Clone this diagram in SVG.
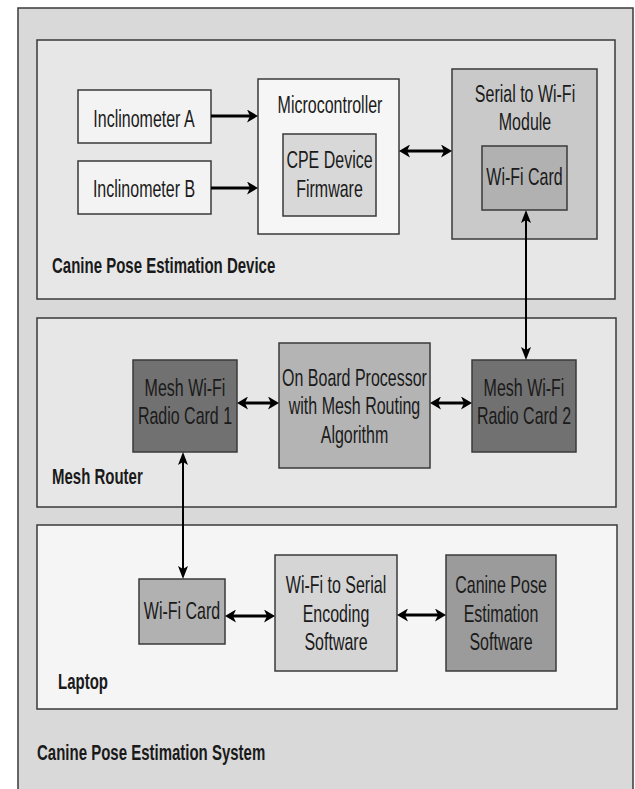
<svg xmlns="http://www.w3.org/2000/svg" width="635" height="789" viewBox="0 0 635 789">
<style>
.box{stroke:#3a3a3a;stroke-width:1.5}
.t{font-family:"Liberation Sans",Arial,sans-serif;font-size:16px;fill:#1a1a1a;text-anchor:middle}
.lb{font-family:"Liberation Sans",Arial,sans-serif;font-size:15px;font-weight:bold;fill:#1a1a1a}
.ah{stroke:#000;stroke-width:3;fill:none}
.av{stroke:#000;stroke-width:2;fill:none}
</style>
<defs>
<marker id="h" markerUnits="userSpaceOnUse" markerWidth="12" markerHeight="13" refX="3" refY="6.5" orient="auto-start-reverse" viewBox="0 0 12 13">
<path d="M0,0 L11,6.5 L0,13 L3,6.5 z" fill="#000"/>
</marker>
<marker id="v" markerUnits="userSpaceOnUse" markerWidth="14" markerHeight="10" refX="3" refY="5" orient="auto-start-reverse" viewBox="0 0 14 10">
<path d="M0,0 L13,5 L0,10 L3,5 z" fill="#000"/>
</marker>
</defs>

<g id="system">
<rect class="box" x="18" y="8" width="615" height="800" fill="#d9d9d9"/>
<text class="lb" transform="matrix(1 0 0 1.5 37 760)">Canine Pose Estimation System</text>
</g>

<g id="device">
<rect class="box" x="37" y="40" width="578" height="259" fill="#e7e7e7"/>
<text class="lb" transform="matrix(1 0 0 1.5 52 273)">Canine Pose Estimation Device</text>
</g>

<g id="inclA">
<rect class="box" x="78" y="90" width="133" height="53" fill="#f3f3f3"/>
<text class="t" transform="matrix(1 0 0 1.5 144 127)">Inclinometer A</text>
</g>
<g id="inclB">
<rect class="box" x="78" y="161" width="133" height="53" fill="#f3f3f3"/>
<text class="t" transform="matrix(1 0 0 1.5 144 197)">Inclinometer B</text>
</g>

<g id="micro">
<rect class="box" x="258" y="79" width="141" height="155" fill="#f6f6f6"/>
<text class="t" transform="matrix(1 0 0 1.5 330 113)">Microcontroller</text>
</g>
<g id="firmware">
<rect class="box" x="283" y="134" width="93" height="82" fill="#d8d8d8"/>
<text class="t" transform="matrix(1 0 0 1.5 329.5 168)">CPE Device</text>
<text class="t" transform="matrix(1 0 0 1.5 329.5 197)">Firmware</text>
</g>

<g id="serial">
<rect class="box" x="452" y="69" width="145" height="170" fill="#c9c9c9"/>
<text class="t" transform="matrix(1 0 0 1.5 525 102)">Serial to Wi-Fi</text>
<text class="t" transform="matrix(1 0 0 1.5 525 130)">Module</text>
</g>
<g id="wifi1">
<rect class="box" x="482" y="146" width="85" height="64" fill="#b1b1b1"/>
<text class="t" transform="matrix(1 0 0 1.5 524.5 185)">Wi-Fi Card</text>
</g>

<g id="router">
<rect class="box" x="37" y="318" width="579" height="189" fill="#e7e7e7"/>
<text class="lb" transform="matrix(1 0 0 1.5 52 484)">Mesh Router</text>
</g>
<g id="card1">
<rect class="box" x="133" y="360" width="104" height="92" fill="#717171"/>
<text class="t" transform="matrix(1 0 0 1.5 185 396)">Mesh Wi-Fi</text>
<text class="t" transform="matrix(1 0 0 1.5 185 424)">Radio Card 1</text>
</g>
<g id="proc">
<rect class="box" x="279" y="343" width="151" height="125" fill="#b4b4b4"/>
<text class="t" transform="matrix(1 0 0 1.5 354.5 386)">On Board Processor</text>
<text class="t" transform="matrix(1 0 0 1.5 354.5 414)">with Mesh Routing</text>
<text class="t" transform="matrix(1 0 0 1.5 354.5 443)">Algorithm</text>
</g>
<g id="card2">
<rect class="box" x="472" y="360" width="104" height="92" fill="#717171"/>
<text class="t" transform="matrix(1 0 0 1.5 524 396)">Mesh Wi-Fi</text>
<text class="t" transform="matrix(1 0 0 1.5 524 424)">Radio Card 2</text>
</g>

<g id="laptop">
<rect class="box" x="37" y="525" width="580" height="184" fill="#f5f5f5"/>
<text class="lb" transform="matrix(1 0 0 1.5 58 689)">Laptop</text>
</g>
<g id="wifi2">
<rect class="box" x="139" y="579" width="86" height="65" fill="#b1b1b1"/>
<text class="t" transform="matrix(1 0 0 1.5 182 619)">Wi-Fi Card</text>
</g>
<g id="w2s">
<rect class="box" x="275" y="555" width="122" height="116" fill="#d5d5d5"/>
<text class="t" transform="matrix(1 0 0 1.5 336 593)">Wi-Fi to Serial</text>
<text class="t" transform="matrix(1 0 0 1.5 336 622)">Encoding</text>
<text class="t" transform="matrix(1 0 0 1.5 336 650)">Software</text>
</g>
<g id="cpesw">
<rect class="box" x="446" y="555" width="110" height="116" fill="#9b9b9b"/>
<text class="t" transform="matrix(1 0 0 1.5 501 593)">Canine Pose</text>
<text class="t" transform="matrix(1 0 0 1.5 501 622)">Estimation</text>
<text class="t" transform="matrix(1 0 0 1.5 501 650)">Software</text>
</g>

<g id="connectors">
<line class="ah" x1="211" y1="116" x2="250" y2="116" marker-end="url(#h)"/>
<line class="ah" x1="211" y1="188" x2="250" y2="188" marker-end="url(#h)"/>
<line class="ah" x1="407" y1="151" x2="444" y2="151" marker-start="url(#h)" marker-end="url(#h)"/>
<line class="av" x1="526" y1="220" x2="526" y2="350" marker-start="url(#v)" marker-end="url(#v)"/>
<line class="ah" x1="245" y1="403" x2="271" y2="403" marker-start="url(#h)" marker-end="url(#h)"/>
<line class="ah" x1="438" y1="403" x2="464" y2="403" marker-start="url(#h)" marker-end="url(#h)"/>
<line class="av" x1="183" y1="462" x2="183" y2="569" marker-start="url(#v)" marker-end="url(#v)"/>
<line class="ah" x1="233" y1="616" x2="267" y2="616" marker-start="url(#h)" marker-end="url(#h)"/>
<line class="ah" x1="405" y1="615" x2="438" y2="615" marker-start="url(#h)" marker-end="url(#h)"/>
</g>
</svg>
